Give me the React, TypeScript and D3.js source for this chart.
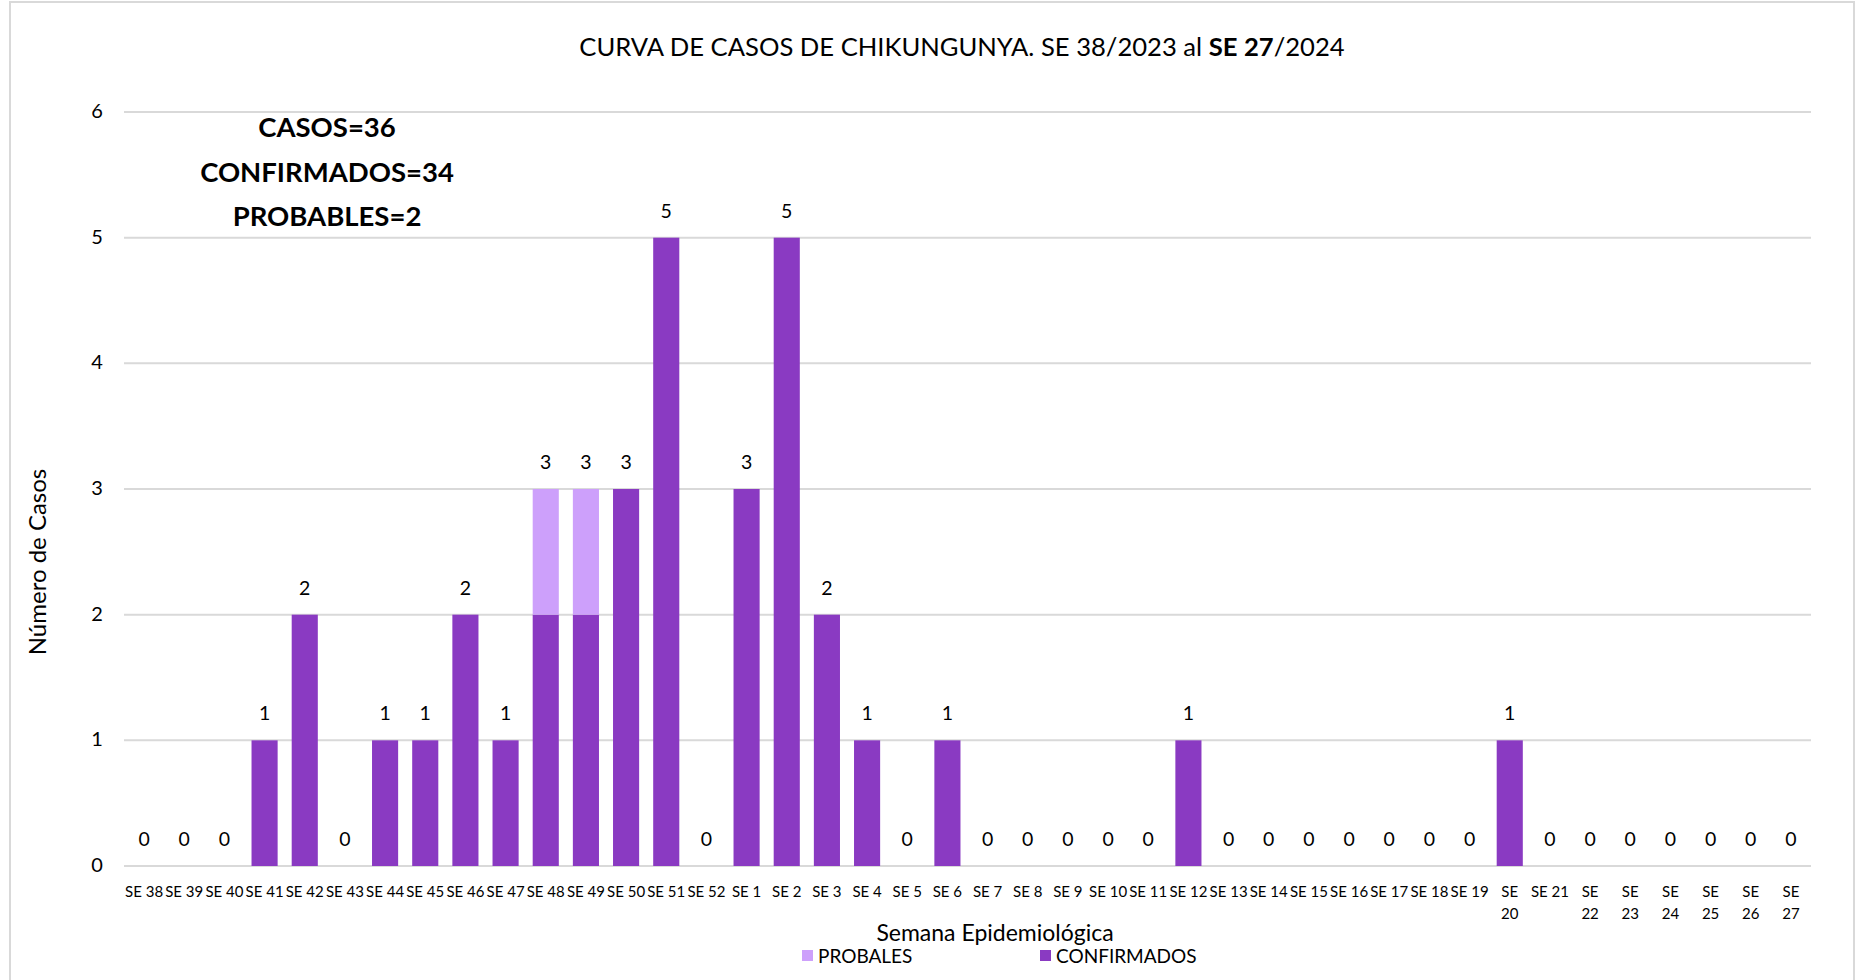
import React from 'react';
import { scaleBand, scaleLinear } from 'd3';

// semanas epidemiológicas SE 38/2023 .. SE 27/2024
const weeks = [
  'SE 38', 'SE 39', 'SE 40', 'SE 41', 'SE 42', 'SE 43', 'SE 44', 'SE 45', 'SE 46', 'SE 47',
  'SE 48', 'SE 49', 'SE 50', 'SE 51', 'SE 52', 'SE 1', 'SE 2', 'SE 3', 'SE 4', 'SE 5',
  'SE 6', 'SE 7', 'SE 8', 'SE 9', 'SE 10', 'SE 11', 'SE 12', 'SE 13', 'SE 14', 'SE 15',
  'SE 16', 'SE 17', 'SE 18', 'SE 19', 'SE 20', 'SE 21', 'SE 22', 'SE 23', 'SE 24', 'SE 25',
  'SE 26', 'SE 27',
];
// etiquetas que Excel parte en dos líneas
const wrappedWeeks = ['SE 20', 'SE 22', 'SE 23', 'SE 24', 'SE 25', 'SE 26', 'SE 27'];

const confirmados = [
  0, 0, 0, 1, 2, 0, 1, 1, 2, 1,
  2, 2, 3, 5, 0, 3, 5, 2, 1, 0,
  1, 0, 0, 0, 0, 0, 1, 0, 0, 0,
  0, 0, 0, 0, 1, 0, 0, 0, 0, 0,
  0, 0,
];
const probables = [
  0, 0, 0, 0, 0, 0, 0, 0, 0, 0,
  1, 1, 0, 0, 0, 0, 0, 0, 0, 0,
  0, 0, 0, 0, 0, 0, 0, 0, 0, 0,
  0, 0, 0, 0, 0, 0, 0, 0, 0, 0,
  0, 0,
];
const yTicks = [0, 1, 2, 3, 4, 5, 6];
const summary = ['CASOS=36', 'CONFIRMADOS=34', 'PROBABLES=2'];

const width = 1862;
const height = 980;
const margin = { top: 112, left: 124, right: 51, bottom: 114 };
const innerWidth = width - margin.left - margin.right;
const innerHeight = height - margin.top - margin.bottom;

const DARK = '#8A3AC2';
const LIGHT = '#CDA0FB';
const GRID = '#D9D9D9';
const font = 'Lato, "Noto Sans", sans-serif';

const App = () => {
  const xScale = scaleBand()
    .domain(weeks)
    .range([0, innerWidth])
    .paddingInner(0.35)
    .paddingOuter(0.175);

  const yScale = scaleLinear()
    .domain([0, 6])
    .range([innerHeight, 0]);

  return (
    <svg
      width={width}
      height={height}
      viewBox={`0 0 ${width} ${height}`}
      style={{ position: 'absolute', left: 0, top: 0, background: '#fff' }}
      fontFamily={font}
    >
      {/* marco */}
      <rect x={10} y={2} width={1844} height={990} fill="#fff" stroke={GRID} strokeWidth={2} />

      <text x={962} y={56} textAnchor="middle" fontSize={25.6} fill="#000">
        CURVA DE CASOS DE CHIKUNGUNYA. SE 38/2023 al <tspan fontWeight="bold">SE</tspan>{'  '}
        <tspan fontWeight="bold">27</tspan>/2024
      </text>

      <g transform={`translate(${margin.left}, ${margin.top})`}>
        {/* líneas de cuadrícula y eje y */}
        {yTicks.map((t) => (
          <g key={t} transform={`translate(0, ${yScale(t)})`}>
            <line x1={0} x2={innerWidth} stroke={GRID} strokeWidth={2} />
            <text x={-27} dy="0.3em" textAnchor="middle" fontSize={20} fill="#000">
              {t}
            </text>
          </g>
        ))}

        {/* barras apiladas */}
        {weeks.map((w, i) => {
          const c = confirmados[i];
          const p = probables[i];
          const x = xScale(w);
          return (
            <g key={w}>
              {c > 0 && (
                <rect
                  x={x}
                  y={yScale(c)}
                  width={xScale.bandwidth()}
                  height={yScale(0) - yScale(c)}
                  fill={DARK}
                />
              )}
              {p > 0 && (
                <rect
                  x={x}
                  y={yScale(c + p)}
                  width={xScale.bandwidth()}
                  height={yScale(c) - yScale(c + p)}
                  fill={LIGHT}
                />
              )}
              <text
                x={x + xScale.bandwidth() / 2}
                y={yScale(c + p) - 20}
                textAnchor="middle"
                fontSize={19.5}
                fill="#000"
              >
                {c + p}
              </text>
            </g>
          );
        })}

        {/* etiquetas eje x */}
        {weeks.map((w) => {
          const cx = xScale(w) + xScale.bandwidth() / 2;
          const lines = wrappedWeeks.includes(w) ? w.split(' ') : [w];
          return (
            <text key={w} x={cx} y={innerHeight + 31} textAnchor="middle" fontSize={15} fill="#000">
              {lines.map((l, k) => (
                <tspan key={k} x={cx} dy={k === 0 ? 0 : 22}>
                  {l}
                </tspan>
              ))}
            </text>
          );
        })}
      </g>

      {/* resumen */}
      {summary.map((s, i) => (
        <text key={s} x={327} y={137 + i * 44.5} textAnchor="middle" fontSize={27.5} fontWeight="bold" fill="#000">
          {s}
        </text>
      ))}

      <text
        transform={`translate(46, 562) rotate(-90)`}
        textAnchor="middle"
        fontSize={24}
        fill="#000"
      >
        Número de Casos
      </text>

      <text x={995} y={941} textAnchor="middle" fontSize={23} fill="#000">
        Semana Epidemiológica
      </text>

      {/* leyenda */}
      <rect x={802} y={950} width={11} height={11} fill={LIGHT} />
      <text x={818} y={963} fontSize={19} fill="#000">PROBALES</text>
      <rect x={1040} y={950} width={11} height={11} fill={DARK} />
      <text x={1056} y={963} fontSize={19} fill="#000">CONFIRMADOS</text>
    </svg>
  );
};

export default App;
